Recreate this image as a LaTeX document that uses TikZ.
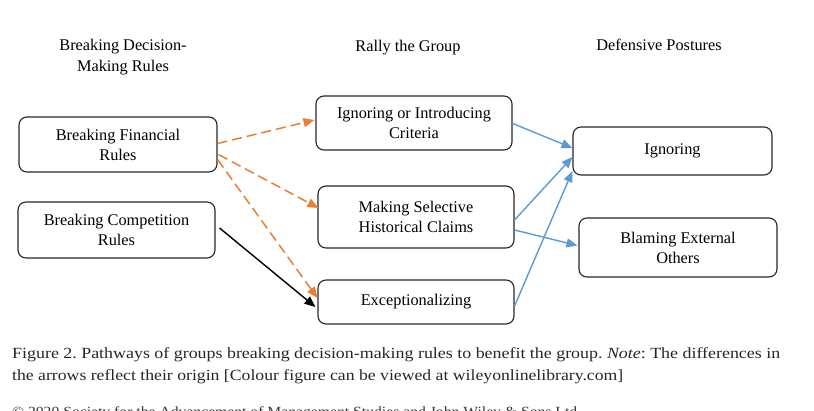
\documentclass[tikz,border=0pt]{standalone}
\usepackage{fontspec}
\setmainfont{Liberation Serif}
\usepackage{graphicx}
\usetikzlibrary{arrows.meta}
\definecolor{orangeA}{HTML}{ED7D31}
\definecolor{blueA}{HTML}{5B9BD5}
\frenchspacing
\begin{document}
\begin{tikzpicture}[x=1pt,y=-1pt,
  box/.style={draw=black!85,line width=1.1pt,rounded corners=8pt,align=center,inner sep=0pt,font=\fontsize{16.3}{20}\selectfont},
  hdr/.style={align=center,font=\fontsize{16.3}{21}\selectfont},
  oarr/.style={draw=orangeA,line width=1.5pt,dash pattern=on 10pt off 5pt,-{Triangle[length=11pt,width=9pt]}},
  barr/.style={draw=blueA,line width=1.4pt,-{Triangle[length=11pt,width=9pt]}},
  karr/.style={draw=black,line width=1.4pt,-{Triangle[length=11pt,width=9pt]}},
  captext/.style={anchor=base west,inner sep=0pt,font=\fontsize{15.5}{22}\selectfont,text=black!85}]
\useasboundingbox (0,0) rectangle (814,410);
% headers
\node[hdr] (h1) at (123,57) {Breaking Decision-\\Making Rules};
\node[hdr] (h2) at (408,48) {Rally the Group};
\node[hdr] (h3) at (659,45) {Defensive Postures};
% boxes
\node[box,minimum width=198pt,minimum height=55pt] (bfr) at (118,144.5) {Breaking Financial\\Rules};
\node[box,minimum width=197pt,minimum height=56pt] (bcr) at (116.5,230) {Breaking Competition\\Rules};
\node[box,minimum width=196pt,minimum height=54pt] (iic) at (414,123) {Ignoring or Introducing\\Criteria};
\node[box,minimum width=196pt,minimum height=62pt] (msh) at (416,217) {Making Selective\\Historical Claims};
\node[box,minimum width=196pt,minimum height=44pt] (exc) at (416,302) {Exceptionalizing};
\node[box,minimum width=199pt,minimum height=48pt] (ign) at (672.5,151) {Ignoring};
\node[box,minimum width=198pt,minimum height=59pt] (bla) at (678,247.5) {Blaming External\\Others};
% orange dashed
\draw[oarr] ([yshift=1pt]bfr.east) -- ([yshift=3pt,xshift=-1pt]iic.west);
\draw[oarr] ([yshift=-10pt,xshift=1pt]bfr.east) -- ([yshift=9pt,xshift=1pt]msh.west);
\draw[oarr] ([yshift=-15pt]bfr.east) -- ([yshift=4pt]exc.west);
% black
\draw[karr] ([xshift=4pt,yshift=2pt]bcr.east) -- ([yshift=-5pt,xshift=-2pt]exc.west);
% blue
\draw[barr] ([xshift=-1pt]iic.east) -- ([yshift=3pt]ign.west);
\draw[barr] ([yshift=-3pt]msh.east) -- ([yshift=-6pt]ign.west);
\draw[barr] ([yshift=-13pt]msh.east) -- ([yshift=2pt,xshift=-1pt]bla.west);
\draw[barr] ([yshift=-4pt]exc.east) -- ([yshift=-20pt]ign.west);
% caption
\node[captext] (c1) at (12,358) {\resizebox{768pt}{\height}{Figure 2. Pathways of groups breaking decision-making rules to benefit the group. \textit{Note}: The differences in}};
\node[captext] (c2) at (12,380) {\resizebox{611pt}{\height}{the arrows reflect their origin [Colour figure can be viewed at wileyonlinelibrary.com]}};
\node[anchor=north west,inner sep=0pt,font=\fontsize{14}{16}\selectfont,text=black!80] (c3) at (12,406) {\resizebox{565pt}{\height}{© 2020 Society for the Advancement of Management Studies and John Wiley \& Sons Ltd}};
\end{tikzpicture}
\end{document}
